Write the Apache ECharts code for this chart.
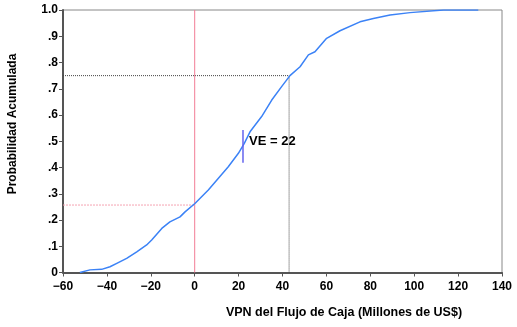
<!DOCTYPE html>
<html><head><meta charset="utf-8">
<script src="https://cdn.jsdelivr.net/npm/echarts@6/dist/echarts.min.js"></script>
<style>html,body{margin:0;padding:0;background:#fff}#c{width:517px;height:327px}</style>
</head><body><div id="c"></div>
<script>
var cdfX = [-52.3,-47.7,-42.4,-38.6,-35.5,-31.0,-26.4,-21.9,-19.6,-15.0,-11.3,-6.7,-4.4,0.1,6.2,10.8,15.3,19.9,22.6,25.2,30.5,35.1,39.6,43.4,48.0,51.8,54.8,60.1,66.2,75.3,81.4,89.0,98.1,113.3,129.2];
var cdfP = [0,0.010,0.012,0.022,0.035,0.054,0.079,0.105,0.124,0.168,0.193,0.212,0.231,0.263,0.314,0.359,0.403,0.454,0.492,0.536,0.594,0.657,0.708,0.750,0.784,0.829,0.841,0.892,0.921,0.955,0.968,0.981,0.990,1.0,1.0];
var veValue = 22, veLow = 0.418, veHigh = 0.543;
var p75 = 0.75, p75X = 43;
var zeroX = 0, zeroP = 0.257;
var veText = 'VE = 22';
var xTitle = 'VPN del Flujo de Caja (Millones de US$)';
var yTitle = 'Probabilidad Acumulada';

var F = 'Liberation Sans, Arial, sans-serif';
var chart = echarts.init(document.getElementById('c'));
function pairs(xs, ys){return xs.map(function(x,i){return [x, ys[i]];});}
chart.setOption({
  animation:false,
  grid:{left:63,right:15,top:10,bottom:54.5,show:true,borderColor:'#888',borderWidth:1},
  xAxis:{type:'value',min:-60,max:140,interval:20,
    axisLine:{onZero:false,lineStyle:{color:'#555',width:2}},
    axisTick:{length:4,lineStyle:{color:'#555'}},
    splitLine:{show:false},
    axisLabel:{fontFamily:F,fontWeight:'bold',fontSize:12,color:'#000',margin:8,
      formatter:function(v){return v<0?'\u2212'+(-v):String(v);}}},
  yAxis:{type:'value',min:0,max:1,interval:0.1,
    axisLine:{onZero:false,lineStyle:{color:'#555',width:2}},
    axisTick:{length:4,lineStyle:{color:'#555'}},
    splitLine:{show:false},
    axisLabel:{fontFamily:F,fontWeight:'bold',fontSize:12,color:'#000',margin:5,
      formatter:function(v){if(v===0)return '0'; if(v>=1)return '1.0'; return '.'+Math.round(v*10);}}},
  series:[
    {type:'line',data:[[-60,p75],[p75X,p75],[p75X,0]],symbol:'none',silent:true,
      lineStyle:{color:'#444',width:1,type:[1,1]}},
    {type:'line',data:[[-60,zeroP],[zeroX,zeroP]],symbol:'none',silent:true,
      lineStyle:{color:'#f5a3b3',width:1,type:[2,1]}},
    {type:'line',data:[[zeroX,0],[zeroX,1]],symbol:'none',silent:true,
      lineStyle:{color:'#f27d96',width:1}},
    {type:'line',data:pairs(cdfX,cdfP),symbol:'none',
      lineStyle:{color:'#3b82f6',width:1.5}},
    {type:'line',data:[[veValue,veLow],[veValue,veHigh]],symbol:'none',
      lineStyle:{color:'#6464ee',width:1.5}}
  ]
});
var pt = chart.convertToPixel({gridIndex:0},[veValue,(veLow+veHigh)/2]);
chart.setOption({graphic:[
  {type:'text',left:pt[0]+6,top:pt[1]-11,style:{text:veText,font:'bold 13px '+F,fill:'#000'}},
  {type:'text',x:344,y:313,style:{text:xTitle,font:'bold 12.5px '+F,fill:'#000',align:'center',verticalAlign:'middle'}},
  {type:'text',x:13,y:124,rotation:Math.PI/2,style:{text:yTitle,font:'bold 12px '+F,fill:'#000',align:'center',verticalAlign:'middle'}}
]});
</script></body></html>
